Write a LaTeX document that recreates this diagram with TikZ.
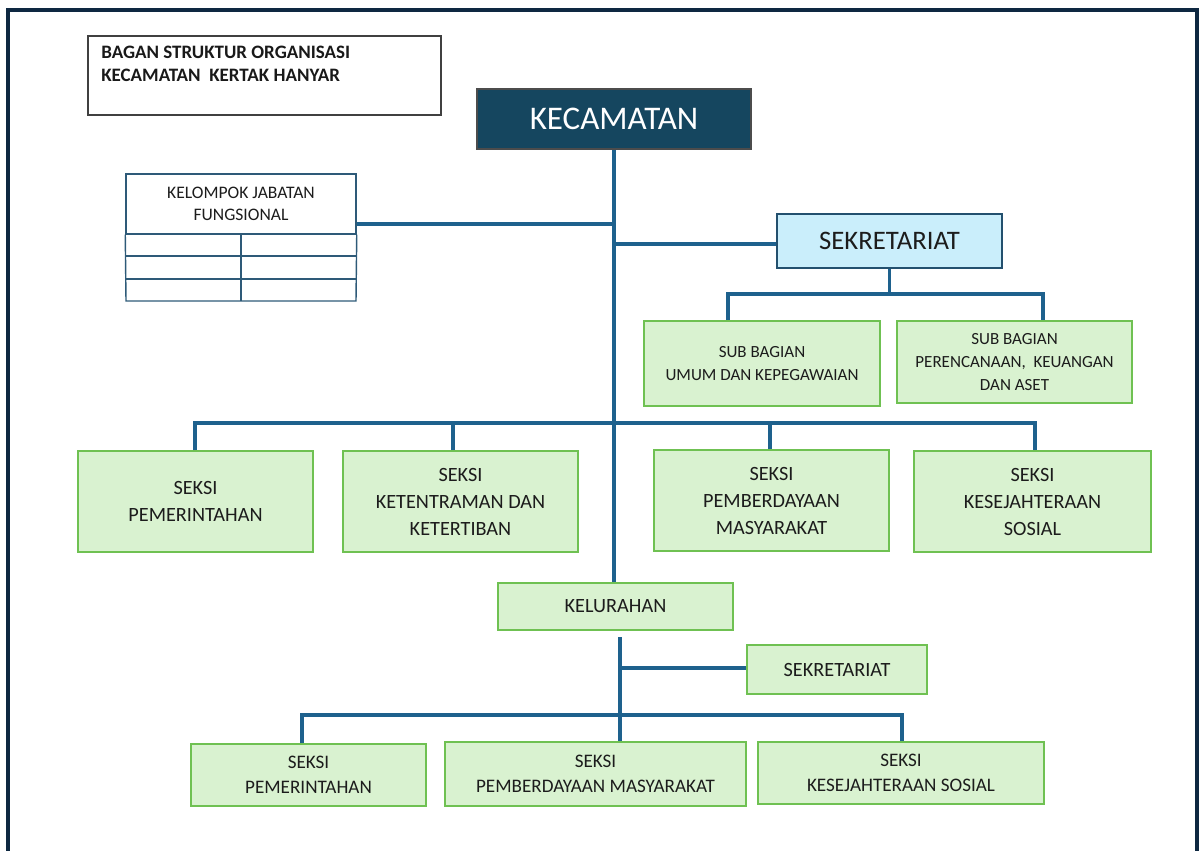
\documentclass[tikz,border=0pt]{standalone}
\usepackage{fontspec}
\setmainfont{Carlito}
\definecolor{linec}{HTML}{1E618D}
\definecolor{greenf}{HTML}{D9F2D0}
\definecolor{greenb}{HTML}{6FC152}
\definecolor{kecf}{HTML}{15465F}
\definecolor{sekf}{HTML}{CAEEFB}
\definecolor{sekb}{HTML}{23506E}
\definecolor{framec}{HTML}{0E2841}
\definecolor{kjfc}{HTML}{2E5A78}
\definecolor{txt}{HTML}{1C1C1C}
\begin{document}
\begin{tikzpicture}[x=0.025cm,y=-0.025cm,
  gbox/.style={draw=greenb, fill=greenf, line width=1.1pt, text=txt, align=center, inner sep=0pt},
  seksi/.style={gbox, font=\fontsize{14.4}{19.2}\selectfont},
  lowbox/.style={gbox, font=\fontsize{13.6}{17.8}\selectfont},
  subbox/.style={gbox, font=\fontsize{12.1}{16.2}\selectfont},
  link/.style={draw=linec, line width=2.2pt},
  kjfl/.style={draw=kjfc, line width=1pt}]
\useasboundingbox (0,0) rectangle (1200,850);
% outer frame
\draw[draw=framec, line width=2.2pt] (8,860) -- (8,10) -- (1197,10) -- (1197,860);

% title
\node[draw=black!75, line width=1pt, minimum width=8.825cm, minimum height=1.975cm, inner sep=0pt] (title) at (264.5,75.5) {};
\node[anchor=north west, align=left, inner sep=0pt, text=black!90, font=\bfseries\fontsize{13.5}{16.4}\selectfont] (titletext) at (101,46) {BAGAN STRUKTUR ORGANISASI\\KECAMATAN\ \ KERTAK HANYAR};

% kecamatan
\node[draw=black!70, fill=kecf, line width=1pt, text=white, minimum width=6.85cm, minimum height=1.5cm, inner sep=0pt, font=\fontsize{23.5}{28}\selectfont] (kec) at (614,119) {KECAMATAN};

% kelompok jabatan fungsional
\node[kjfl, minimum width=5.75cm, minimum height=1.5cm, inner sep=0pt, align=center, text=txt, font=\fontsize{12.5}{15.6}\selectfont] (kjf) at (241,204) {KELOMPOK JABATAN\\FUNGSIONAL};
\draw[kjfl] (kjf.south west) -- (126,301) -- (356,301) -- (kjf.south east);
\draw[kjfl] (126,256) -- (356,256);
\draw[kjfl] (126,279) -- (356,279);
\draw[kjfl] (kjf.south) -- (241,301);

% sekretariat
\node[draw=sekb, fill=sekf, line width=1pt, text=txt, minimum width=5.625cm, minimum height=1.35cm, inner sep=0pt, font=\fontsize{19}{23}\selectfont] (sek) at (889.5,241) {SEKRETARIAT};
\node[subbox, minimum width=5.9cm, minimum height=2.125cm] (subu) at (762,363.5) {SUB BAGIAN\\UMUM DAN KEPEGAWAIAN};
\node[subbox, minimum width=5.875cm, minimum height=2.05cm] (subp) at (1014.5,362) {SUB BAGIAN\\PERENCANAAN,\ \ KEUANGAN\\DAN ASET};

% seksi row
\node[seksi, minimum width=5.875cm, minimum height=2.525cm] (s1) at (195.5,501.5) {SEKSI\\PEMERINTAHAN};
\node[seksi, minimum width=5.875cm, minimum height=2.525cm] (s2) at (460.5,501.5) {SEKSI\\KETENTRAMAN DAN\\KETERTIBAN};
\node[seksi, minimum width=5.875cm, minimum height=2.525cm] (s3) at (771.5,500.5) {SEKSI\\PEMBERDAYAAN\\MASYARAKAT};
\node[seksi, minimum width=5.925cm, minimum height=2.525cm] (s4) at (1032.5,501.5) {SEKSI\\KESEJAHTERAAN\\SOSIAL};

% kelurahan
\node[seksi, minimum width=5.875cm, minimum height=1.175cm] (kel) at (615.5,606.5) {KELURAHAN};
\node[seksi, minimum width=4.5cm, minimum height=1.225cm] (ksek) at (837,669.5) {SEKRETARIAT};
\node[lowbox, minimum width=5.875cm, minimum height=1.55cm] (b1) at (308.5,775) {SEKSI\\PEMERINTAHAN};
\node[lowbox, minimum width=7.525cm, minimum height=1.6cm] (b2) at (595.5,774) {SEKSI\\PEMBERDAYAAN MASYARAKAT};
\node[lowbox, minimum width=7.15cm, minimum height=1.55cm] (b3) at (901,773) {SEKSI\\KESEJAHTERAAN SOSIAL};

% junction coordinates
\coordinate (jk) at (614,224);
\coordinate (js) at (614,244);
\coordinate (su1) at (728,294);
\coordinate (su2) at (1043,294);
\coordinate (c1) at (195,423);
\coordinate (c2) at (453,423);
\coordinate (c3) at (770,423);
\coordinate (c4) at (1035,423);
\coordinate (k0) at (620,637);
\coordinate (k1) at (620,668);
\coordinate (k2) at (302,715);
\coordinate (k3) at (902,715);

% connectors
\draw[link] (kec.south) -- (kec.south |- kel.north);
\draw[link] (kjf.east |- jk) -- (jk);
\draw[link] (js) -- (sek.west |- js);
\draw[link] (sek.south) -- (sek.south |- su1);
\draw[link] (subu.north -| su1) -- (su1) -- (su2) -- (subp.north -| su2);
\draw[link] (s1.north -| c1) -- (c1) -- (c4) -- (s4.north -| c4);
\draw[link] (s2.north -| c2) -- (c2);
\draw[link] (s3.north -| c3) -- (c3);
\draw[link] (k0) -- (b2.north -| k0);
\draw[link] (k1) -- (ksek.west |- k1);
\draw[link] (b1.north -| k2) -- (k2) -- (k3) -- (b3.north -| k3);
\end{tikzpicture}
\end{document}
